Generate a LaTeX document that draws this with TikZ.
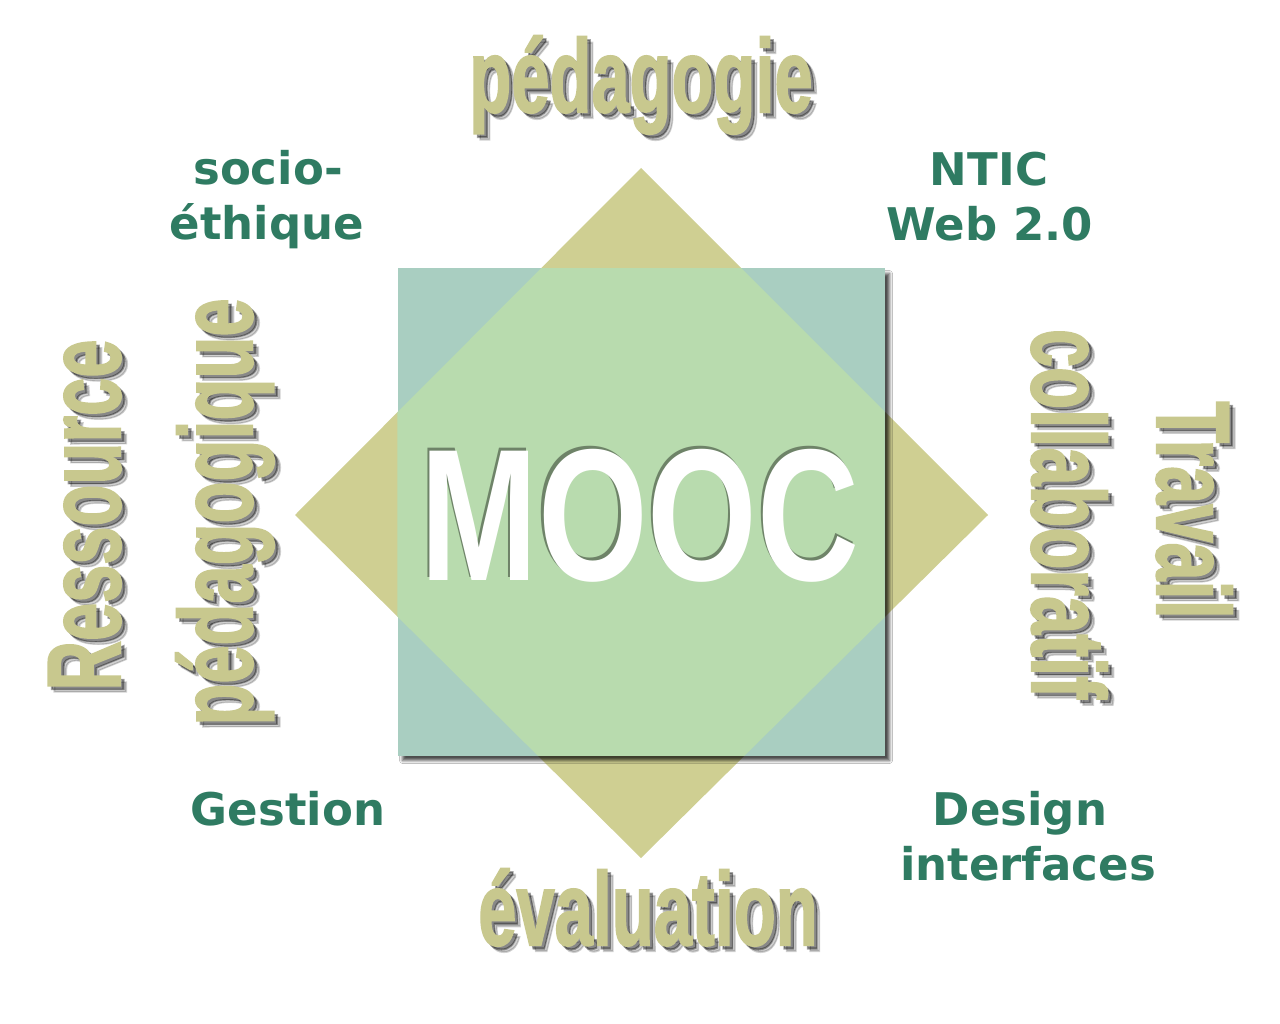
\documentclass[tikz,border=0pt]{standalone}
\usepackage{fontspec}
\setmainfont{Liberation Sans}
\newfontfamily\greenfont{DejaVu Sans}
\newfontfamily\kfont{Liberation Sans Bold}[FakeBold=2]
\usetikzlibrary{calc,shadows.blur}
\definecolor{diamondc}{RGB}{207,207,146}
\definecolor{squarec}{RGB}{169,206,193}
\definecolor{overlapc}{RGB}{184,219,174}
\definecolor{khakitxt}{RGB}{200,200,142}
\definecolor{greentxt}{RGB}{47,123,98}
\tikzset{
  kword/.style={anchor=base, inner sep=0pt, text=khakitxt, font=\kfont\fontsize{104}{110}\selectfont},
  kshadowA/.style={kword, text=black, text opacity=0.35},
  kshadowB/.style={kword, text=black, text opacity=0.18},
  gword/.style={anchor=base, inner sep=0pt, text=greentxt, font=\greenfont\fontsize{45}{50}\selectfont\bfseries},
  moocword/.style={anchor=base, inner sep=0pt, font=\fontsize{188}{190}\selectfont\bfseries}
}
\newcommand\kwordat[4]{%
  \node[kshadowB, rotate=#3] (#1-sb) at ($(#2)+(6,6)$) {\scalebox{0.66}[1]{#4}};
  \node[kshadowA, rotate=#3] (#1-sa) at ($(#2)+(3.5,3.5)$) {\scalebox{0.66}[1]{#4}};
  \node[kword, rotate=#3] (#1) at (#2) {\scalebox{0.66}[1]{#4}};
}
\begin{document}
\begin{tikzpicture}[x=1pt,y=-1pt]
\useasboundingbox[fill=white] (0,0) rectangle (1280,1024);
% diamond
\coordinate (dT) at (641,168);
\coordinate (dL) at (295,515);
\coordinate (dR) at (988,515);
\coordinate (dB) at (641,858);
\fill[diamondc] (dT) -- (dR) -- (dB) -- (dL) -- cycle;
% square with shadow
\node[draw=none, fill=squarec, minimum width=487pt, minimum height=487pt, inner sep=0pt,
  blur shadow={shadow xshift=5pt, shadow yshift=-5pt, shadow blur radius=3pt, shadow opacity=70}]
  (sq) at (641,512) {};
\begin{scope}
  \clip (sq.south west) rectangle (sq.north east);
  \fill[overlapc] (dT) -- (dR) -- (dB) -- (dL) -- cycle;
\end{scope}
% MOOC
\node[moocword, text=black, text opacity=0.4] (mooc-sh) at (637.5,577.5) {\scalebox{0.75}[1]{MOOC}};
\node[moocword, text=white] (mooc) at (640,580) {\scalebox{0.75}[1]{MOOC}};
% big khaki words
\kwordat{ped}{641,112}{0}{pédagogie}
\kwordat{eval}{648,945}{0}{évaluation}
\kwordat{res}{120,515}{90}{Ressource}
\kwordat{pedq}{252,512}{90}{pédagogique}
\kwordat{collab}{1032,514}{-90}{collaboratif}
\kwordat{trav}{1157,510}{-90}{Travail}
% green words
\node[gword] (socio) at (268,185) {socio-};
\node[gword] (ethique) at (267,240) {éthique};
\node[gword] (ntic) at (989,186) {NTIC};
\node[gword] (web) at (990,241) {Web 2.0};
\node[gword] (gestion) at (288,825) {Gestion};
\node[gword] (design) at (1020,825) {Design};
\node[gword] (interf) at (1028,880) {interfaces};
\end{tikzpicture}
\end{document}
